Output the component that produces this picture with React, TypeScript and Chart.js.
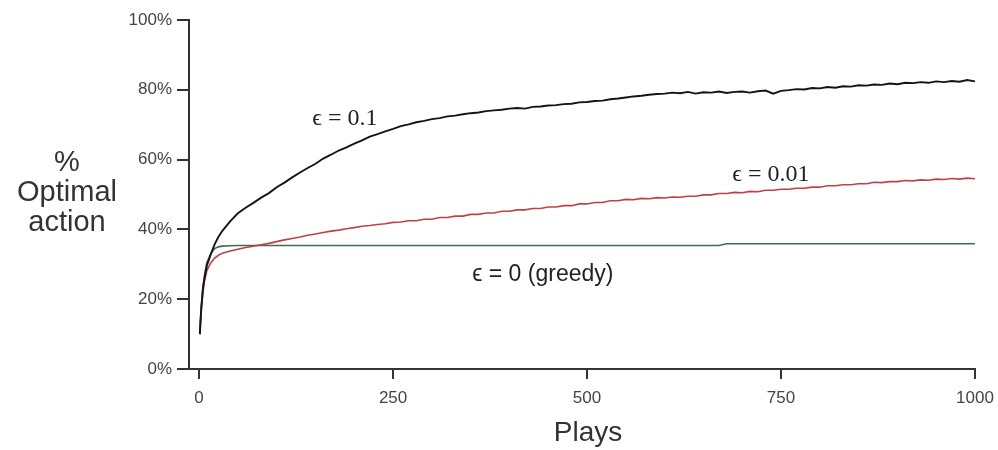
import React, { useEffect, useRef } from "react";
import { Chart, registerables } from "chart.js";

Chart.register(...registerables);

// Plays (x values)
const plays: number[] = [
  1, 2, 3, 5, 7, 10, 15, 20, 25, 30,
  40, 50, 60, 70, 80, 90, 100, 110, 120, 130, 140, 150, 160, 170, 180, 190,
  200, 210, 220, 230, 240, 250, 260, 270, 280, 290, 300, 310, 320, 330, 340,
  350, 360, 370, 380, 390, 400, 410, 420, 430, 440, 450, 460, 470, 480, 490,
  500, 510, 520, 530, 540, 550, 560, 570, 580, 590, 600, 610, 620, 630, 640,
  650, 660, 670, 680, 690, 700, 710, 720, 730, 740, 750, 760, 770, 780, 790,
  800, 810, 820, 830, 840, 850, 860, 870, 880, 890, 900, 910, 920, 930, 940,
  950, 960, 970, 980, 990, 1000,
];

// % optimal action, epsilon = 0.1
const eps01: number[] = [
  10.0, 14.5, 17.8, 23.2, 26.0, 29.6, 32.8, 35.7, 37.9, 39.6,
  42.3, 44.6, 46.2, 47.6, 49.1, 50.4, 52.1, 53.4, 54.9, 56.3, 57.6, 58.8, 60.3, 61.4, 62.6, 63.5,
  64.6, 65.5, 66.6, 67.3, 68.1, 68.8, 69.6, 70.1, 70.7, 71.1, 71.6, 71.9, 72.4, 72.6, 73.0,
  73.3, 73.5, 73.9, 74.1, 74.3, 74.6, 74.8, 74.6, 75.1, 75.2, 75.5, 75.6, 75.9, 76.0, 76.4,
  76.5, 76.8, 76.9, 77.3, 77.5, 77.8, 78.1, 78.3, 78.6, 78.8, 78.9, 79.2, 79.0, 79.4, 78.9,
  79.3, 79.2, 79.5, 79.1, 79.4, 79.5, 79.2, 79.6, 79.8, 78.9, 79.7, 79.9, 80.2, 80.1, 80.5,
  80.4, 80.8, 80.6, 81.0, 80.9, 81.3, 81.2, 81.5, 81.4, 81.8, 81.6, 82.0, 81.9, 82.2, 82.0,
  82.4, 82.2, 82.5, 82.3, 82.8, 82.4,
];

// % optimal action, epsilon = 0.01
const eps001: number[] = [
  10.0, 14.0, 17.5, 22.0, 25.3, 28.2, 30.4, 31.8, 32.6, 33.2,
  33.8, 34.3, 34.8, 35.2, 35.6, 36.0, 36.5, 37.0, 37.4, 37.8, 38.3, 38.7, 39.1, 39.5, 39.8, 40.2,
  40.5, 40.9, 41.1, 41.4, 41.6, 42.0, 42.1, 42.5, 42.5, 42.9, 42.9, 43.4, 43.4, 43.8, 43.8,
  44.3, 44.3, 44.7, 44.7, 45.2, 45.2, 45.6, 45.6, 46.0, 46.0, 46.4, 46.4, 46.8, 46.8, 47.3,
  47.3, 47.7, 47.7, 48.2, 48.2, 48.6, 48.5, 48.9, 48.8, 49.1, 49.0, 49.3, 49.2, 49.5, 49.5,
  49.9, 49.9, 50.3, 50.3, 50.6, 50.5, 50.9, 50.8, 51.2, 51.2, 51.5, 51.5, 51.8, 51.8, 52.1,
  52.1, 52.5, 52.5, 52.8, 52.8, 53.1, 53.1, 53.5, 53.4, 53.7, 53.7, 54.0, 53.9, 54.2, 54.1,
  54.4, 54.3, 54.6, 54.4, 54.7, 54.5,
];

// % optimal action, epsilon = 0 (greedy)
const eps0: number[] = [
  10.0, 14.8, 18.5, 23.5, 27.0, 30.5, 33.0, 34.5, 35.0, 35.2,
  35.3, 35.4, 35.4, 35.4, 35.4, 35.4, 35.4, 35.4, 35.4, 35.4, 35.4, 35.4, 35.4, 35.4, 35.4, 35.4,
  35.4, 35.4, 35.4, 35.4, 35.4, 35.4, 35.4, 35.4, 35.4, 35.4, 35.4, 35.4, 35.4, 35.4, 35.4,
  35.4, 35.4, 35.4, 35.4, 35.4, 35.4, 35.4, 35.4, 35.4, 35.4, 35.4, 35.4, 35.4, 35.4, 35.4,
  35.4, 35.4, 35.4, 35.4, 35.4, 35.4, 35.4, 35.4, 35.4, 35.4, 35.4, 35.4, 35.4, 35.4, 35.4,
  35.4, 35.4, 35.4, 35.9, 35.9, 35.9, 35.9, 35.9, 35.9, 35.9, 35.9, 35.9, 35.9, 35.9, 35.9,
  35.9, 35.9, 35.9, 35.9, 35.9, 35.9, 35.9, 35.9, 35.9, 35.9, 35.9, 35.9, 35.9, 35.9, 35.9,
  35.9, 35.9, 35.9, 35.9, 35.9, 35.9,
];

const xTicks: number[] = [0, 250, 500, 750, 1000];
const yTicks: number[] = [0, 20, 40, 60, 80, 100];

const xTitle = "Plays";
const yTitleLines: string[] = ["%", "Optimal", "action"];

// Curve labels placed in data coordinates (plays, percent)
const annotationTexts: string[] = ["\u03f5 = 0.1", "\u03f5 = 0.01", "\u03f5 = 0 (greedy)"];
const annotationX: number[] = [188, 737, 443];
const annotationY: number[] = [71.6, 55.6, 26.9];
const annotationFonts: string[] = [
  '24px "Liberation Serif", "DejaVu Serif", serif',
  '24px "Liberation Serif", "DejaVu Serif", serif',
  '23px "Liberation Sans", Arial, sans-serif',
];

const toPoints = (ys: number[]) => plays.map((x, i) => ({ x, y: ys[i] }));

export default function App() {
  const ref = useRef<HTMLCanvasElement | null>(null);

  useEffect(() => {
    if (!ref.current) return;

    const textPlugin = {
      id: "textPlugin",
      afterDraw(chart: any) {
        const ctx = chart.ctx;
        const xs = chart.scales.x;
        const ys = chart.scales.y;
        ctx.save();
        ctx.fillStyle = "#333";
        ctx.textAlign = "center";
        ctx.textBaseline = "middle";
        ctx.font = '28px "Liberation Sans", Arial, sans-serif';
        ctx.fillText(xTitle, xs.getPixelForValue(500) + 1, 433);
        ctx.font = '29px "Liberation Sans", Arial, sans-serif';
        yTitleLines.forEach((t, i) => {
          ctx.fillText(t, 67, 163 + i * 30);
        });
        ctx.fillStyle = "#222";
        annotationTexts.forEach((t, i) => {
          ctx.font = annotationFonts[i];
          ctx.fillText(t, xs.getPixelForValue(annotationX[i]), ys.getPixelForValue(annotationY[i]));
        });
        ctx.restore();
      },
    };

    const chart = new Chart(ref.current, {
      type: "line",
      data: {
        datasets: [
          {
            label: "eps 0.1",
            data: toPoints(eps01),
            borderColor: "#141414",
            borderWidth: 1.9,
            pointRadius: 0,
            tension: 0,
            order: 0,
          },
          {
            label: "eps 0.01",
            data: toPoints(eps001),
            borderColor: "#c0404a",
            borderWidth: 1.6,
            pointRadius: 0,
            tension: 0,
            order: 1,
          },
          {
            label: "eps 0",
            data: toPoints(eps0),
            borderColor: "#3e6e50",
            borderWidth: 1.6,
            pointRadius: 0,
            tension: 0,
            order: 2,
          },
        ],
      },
      options: {
        animation: false,
        responsive: false,
        maintainAspectRatio: false,
        layout: { padding: { left: 0, right: 23, top: 20, bottom: 0 } },
        plugins: {
          legend: { display: false },
          tooltip: { enabled: false },
        },
        scales: {
          x: {
            type: "linear",
            min: -13,
            max: 1000,
            afterFit: (s: any) => {
              s.height = 81;
              s.paddingLeft = 0;
              s.paddingRight = 0;
            },
            afterBuildTicks: (s: any) => {
              s.ticks = xTicks.map((v) => ({ value: v }));
            },
            grid: {
              display: true,
              drawOnChartArea: false,
              drawTicks: true,
              tickLength: 10,
              color: "#333",
              lineWidth: 2,
            },
            border: { display: true, color: "#333", width: 2 },
            ticks: {
              padding: 9,
              color: "#444",
              font: { family: '"Liberation Sans", Arial, sans-serif', size: 17 },
              maxRotation: 0,
              autoSkip: false,
              callback: (v: any) => String(v),
            },
          },
          y: {
            type: "linear",
            min: 0,
            max: 100,
            afterFit: (s: any) => {
              s.width = 189;
              s.paddingTop = 0;
              s.paddingBottom = 0;
            },
            afterBuildTicks: (s: any) => {
              s.ticks = yTicks.map((v) => ({ value: v }));
            },
            grid: {
              display: true,
              drawOnChartArea: false,
              drawTicks: true,
              tickLength: 12,
              color: "#333",
              lineWidth: 2,
            },
            border: { display: true, color: "#333", width: 2 },
            ticks: {
              padding: 5,
              color: "#444",
              font: { family: '"Liberation Sans", Arial, sans-serif', size: 17 },
              callback: (v: any) => `${v}%`,
            },
          },
        },
      },
      plugins: [textPlugin],
    });

    return () => chart.destroy();
  }, []);

  return (
    <div style={{ position: "fixed", left: 0, top: 0, width: 998, height: 450, background: "#fff" }}>
      <canvas ref={ref} width={998} height={450} />
    </div>
  );
}
